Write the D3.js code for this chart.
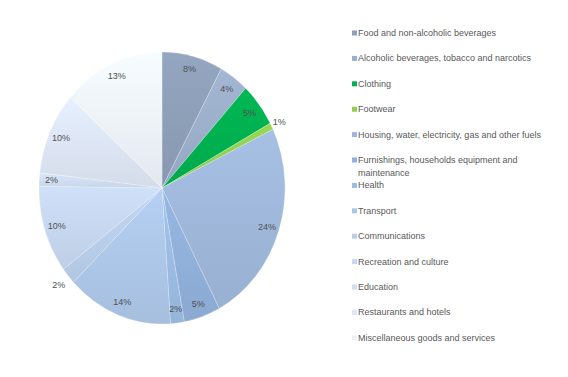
<!DOCTYPE html>
<html>
<head>
<meta charset="utf-8">
<script src="https://cdn.jsdelivr.net/npm/d3@7"></script>
<style>
  body { margin: 0; background: #fff; }
  text { font-family: "Liberation Sans", sans-serif; }
</style>
</head>
<body>
<div id="chart"></div>
<script>
// categories and their shares (percent)
const categories = [
  "Food and non-alcoholic beverages",
  "Alcoholic beverages, tobacco and narcotics",
  "Clothing",
  "Footwear",
  "Housing, water, electricity, gas and other fuels",
  "Furnishings, households equipment and maintenance",
  "Health",
  "Transport",
  "Communications",
  "Recreation and culture",
  "Education",
  "Restaurants and hotels",
  "Miscellaneous goods and services"
];
const shares = [8.0, 3.9, 5.2, 0.8, 24.4, 4.8, 1.8, 13.9, 2.0, 10.4, 1.6, 9.8, 13.4];
const colors = [
  "#8e9fb8", "#9cafcb", "#00b050", "#92d050", "#9fb8da", "#91b0da", "#9cbce4",
  "#adc7e9", "#b9cfeb", "#c6d7ef", "#d1def1", "#dde6f4", "#edf2f9"
];

const width = 568, height = 377;
const cx = 162, cy = 188, rx = 123, ry = 136;

const svg = d3.select("#chart").append("svg")
  .attr("width", width)
  .attr("height", height);

const data = categories.map((c, i) => ({ name: c, value: shares[i], color: colors[i] }));

// soft top-to-bottom shading on each slice, like the Excel style
const defs = svg.append("defs");
data.forEach((d, i) => {
  const grad = defs.append("linearGradient")
    .attr("id", "grad" + i)
    .attr("x1", 0).attr("y1", 0).attr("x2", 0).attr("y2", 1);
  grad.append("stop").attr("offset", "0%").attr("stop-color", d3.color(d.color).brighter(0.12));
  grad.append("stop").attr("offset", "100%").attr("stop-color", d3.color(d.color).darker(0.12));
});

const pie = d3.pie().sort(null).value(d => d.value);
const arcs = pie(data);
const arc = d3.arc().innerRadius(0).outerRadius(rx);

// pie is drawn as an ellipse (stretched vertically like the source)
const g = svg.append("g")
  .attr("transform", `translate(${cx},${cy}) scale(1,${ry / rx})`);

g.selectAll("path")
  .data(arcs)
  .enter()
  .append("path")
  .attr("d", arc)
  .attr("fill", (d, i) => `url(#grad${i})`)
  .attr("stroke", "#ffffff")
  .attr("stroke-opacity", 0.35)
  .attr("stroke-width", 0.6);

// label distance as fraction of radius; a couple sit outside like Excel's best fit
const labelR = i => (i === 3 ? 1.07 : i === 8 ? 1.1 : 0.9);

svg.append("g").selectAll("text")
  .data(arcs)
  .enter()
  .append("text")
  .attr("x", (d, i) => cx + Math.sin((d.startAngle + d.endAngle) / 2) * rx * labelR(i))
  .attr("y", (d, i) => cy - Math.cos((d.startAngle + d.endAngle) / 2) * ry * labelR(i))
  .attr("text-anchor", "middle")
  .attr("dominant-baseline", "central")
  .attr("font-size", "9px")
  .attr("fill", "#505050")
  .text(d => Math.round(d.data.value) + "%");

// legend
const legend = svg.append("g").attr("transform", "translate(352,33)");
const rowH = 25.4;

const item = legend.selectAll("g")
  .data(data)
  .enter()
  .append("g")
  .attr("transform", (d, i) => `translate(0,${i * rowH})`);

item.append("rect")
  .attr("x", 0)
  .attr("y", -2.5)
  .attr("width", 5)
  .attr("height", 5)
  .attr("fill", d => d.color);

item.append("text")
  .attr("x", 6)
  .attr("y", 0)
  .attr("dominant-baseline", "central")
  .attr("font-size", "9px")
  .attr("fill", "#595959")
  .each(function(d) {
    const t = d3.select(this);
    const words = d.name.split(" ");
    let line = [];
    let tspan = t.append("tspan").attr("x", 6).attr("dy", 0);
    words.forEach(w => {
      line.push(w);
      tspan.text(line.join(" "));
      if (tspan.node().getComputedTextLength() > 185 && line.length > 1) {
        line.pop();
        tspan.text(line.join(" "));
        line = [w];
        tspan = t.append("tspan").attr("x", 6).attr("dy", 12.5).text(w);
      }
    });
  });
</script>
</body>
</html>
